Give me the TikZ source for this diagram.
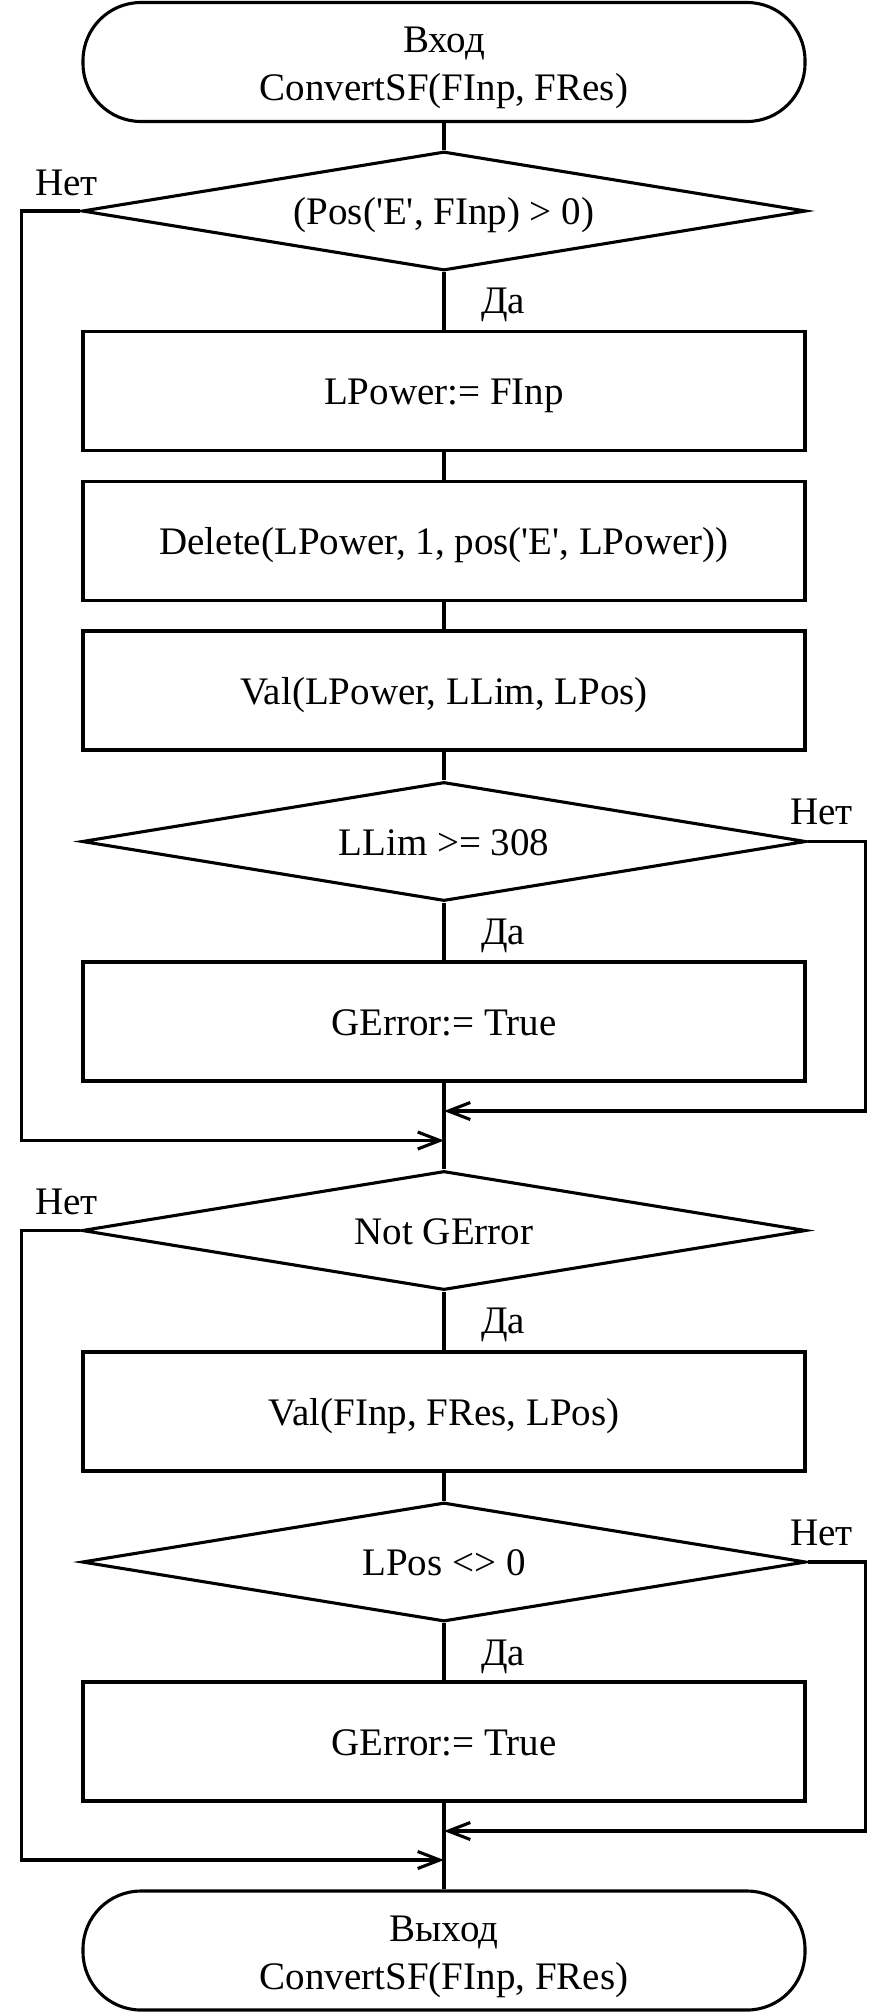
\documentclass[tikz,border=0pt]{standalone}
\usepackage{fontspec}
\setmainfont{Liberation Serif}
\usetikzlibrary{shapes.geometric,arrows.meta}
\newcommand{\sqt}{\textquotesingle}
\newcommand{\toprule}{\rule{0pt}{38pt}}
\begin{document}
\begin{tikzpicture}[x=1pt,y=-1pt,
  every node/.style={font=\fontsize{39}{48}\selectfont},
  line/.style={line width=3.1pt},
  arr/.style={line width=3.1pt,-{Straight Barb[length=22pt,width=17pt]}},
  procbox/.style={draw,line width=3.1pt,rectangle,minimum width=722pt,minimum height=119pt,inner sep=0pt,text height=27pt,text depth=0pt},
  dec/.style={draw,line width=3.1pt,diamond,aspect=6,minimum width=724pt,minimum height=119pt,inner sep=0pt,text height=27pt,text depth=0pt},
  term/.style={draw,line width=3.1pt,rectangle,rounded corners=58pt,minimum width=722pt,minimum height=119pt,inner sep=0pt,align=center},
  lbl/.style={inner sep=0pt,anchor=base west}]
\useasboundingbox (0,0) rectangle (891,2013);
\node[term] (t1) at (444,62) {\toprule Вход\\ConvertSF(FInp, FRes)};
\node[dec] (d1) at (444,211) {(Pos(\sqt E\sqt, FInp) > 0)};
\node[procbox] (b1) at (444,391) {LPower:= FInp};
\node[procbox] (b2) at (444,541) {Delete(LPower, 1, pos(\sqt E\sqt, LPower))};
\node[procbox] (b3) at (444,690.5) {Val(LPower, LLim, LPos)};
\node[dec] (d2) at (444,841.5) {LLim >= 308};
\node[procbox] (b4) at (444,1021.5) {GError:= True};
\coordinate (j1) at (444,1111);
\coordinate (j2) at (444,1140.5);
\node[dec] (d3) at (444,1230.5) {Not GError};
\node[procbox] (b5) at (444,1411.5) {Val(FInp, FRes, LPos)};
\node[dec] (d4) at (444,1562) {LPos <> 0};
\node[procbox] (b6) at (444,1741.5) {GError:= True};
\coordinate (j3) at (444,1831);
\coordinate (j4) at (444,1860);
\node[term] (t2) at (444,1950.5) {\toprule Выход\\ConvertSF(FInp, FRes)};
\node[lbl] (n1) at (35,195) {Нет};
\node[lbl] (y1) at (481,313) {Да};
\node[lbl] (n2) at (790,824) {Нет};
\node[lbl] (y2) at (481,944) {Да};
\node[lbl] (n3) at (35,1214.5) {Нет};
\node[lbl] (y3) at (481,1333) {Да};
\node[lbl] (n4) at (790,1545) {Нет};
\node[lbl] (y4) at (481,1665) {Да};
\draw[line] (t1.south) -- (d1.north);
\draw[line] (d1.south) -- (b1.north);
\draw[line] (b1.south) -- (b2.north);
\draw[line] (b2.south) -- (b3.north);
\draw[line] (b3.south) -- (d2.north);
\draw[line] (d2.south) -- (b4.north);
\draw[line] (b4.south) -- (d3.north);
\draw[arr] (d2.east) -- ++(58,0) |- (j1);
\draw[arr] (d1.west) -- ++(-59,0) |- (j2);
\draw[line] (d3.south) -- (b5.north);
\draw[line] (b5.south) -- (d4.north);
\draw[line] (d4.south) -- (b6.north);
\draw[line] (b6.south) -- (t2.north);
\draw[arr] (d4.east) -- ++(58,0) |- (j3);
\draw[arr] (d3.west) -- ++(-59,0) |- (j4);
\end{tikzpicture}
\end{document}
